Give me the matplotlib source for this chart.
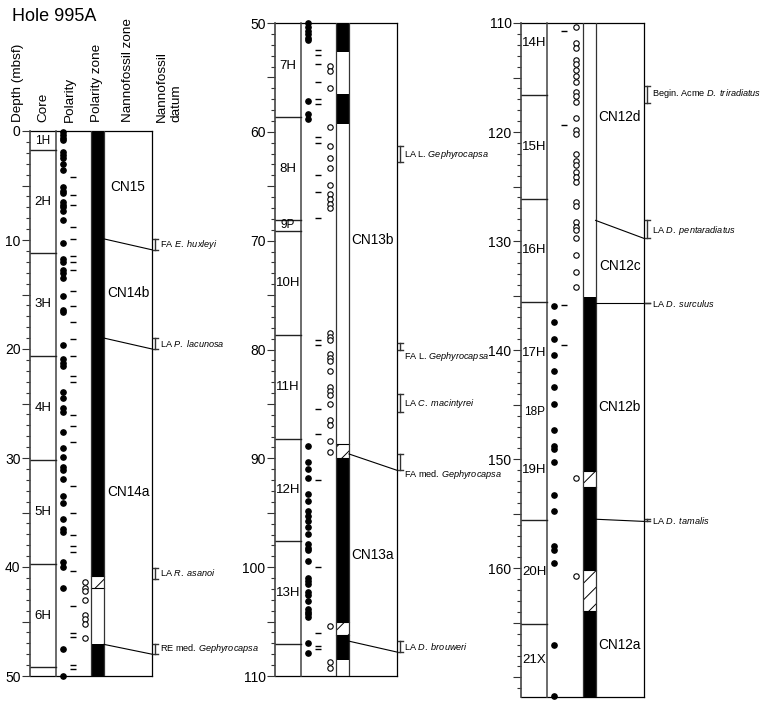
import matplotlib
matplotlib.use("Agg")
import matplotlib.pyplot as plt
from matplotlib.patches import Rectangle
from matplotlib.ticker import MultipleLocator, FuncFormatter

plt.rcParams['font.family'] = ['Liberation Sans', 'DejaVu Sans']
plt.rcParams['mathtext.fontset'] = 'custom'
plt.rcParams['mathtext.rm'] = 'Liberation Sans'
plt.rcParams['mathtext.it'] = 'Liberation Sans:italic'
plt.rcParams['hatch.linewidth'] = 0.7

# ---- data (depths in mbsf) ----
core_names = ["1H", "2H", "3H", "4H", "5H", "6H", "7H", "8H", "9P", "10H", "11H",
              "12H", "13H", "14H", "15H", "16H", "17H", "18P", "19H", "20H", "21X"]
core_tops = [0, 1.75, 11.2, 20.6, 30.2, 39.7, 49.2, 58.65, 68.1, 69.1, 78.7,
             88.2, 97.6, 107.1, 116.6, 126.1, 135.6, 145.0, 146.4, 155.6, 165.1]
hole_bottom = 171.8
hidden_core_lines = [145.0, 146.4]

normal_pts = [0.1, 0.35, 0.6, 0.85, 1.9, 2.2, 2.5, 3.0, 3.6, 5.1, 5.5, 5.7, 6.5, 6.8,
              7.0, 7.3, 8.2, 10.3, 11.7, 12.0, 12.75, 13.05, 13.5, 15.1, 16.4, 16.6,
              19.6, 20.95, 21.25, 21.55, 23.9, 24.5, 25.4, 25.75, 27.6, 29.05, 29.9,
              30.8, 31.1, 31.95, 33.5, 34.1, 35.6, 36.5, 36.8, 39.5, 40.0, 41.9, 47.5,
              50.0, 50.4, 50.75, 51.05, 51.35, 51.6, 57.2, 58.4, 58.8, 88.85, 90.35,
              90.95, 91.85, 93.3, 93.9, 94.8, 95.3, 95.75, 96.35, 96.95, 97.9, 98.2,
              98.45, 99.4, 100.95, 101.25, 101.55, 102.3, 102.6, 103.1, 103.85, 104.1,
              104.3, 104.55, 107.0, 107.9,
              135.95, 137.4, 138.95, 140.4, 141.9, 143.35, 144.9, 147.3, 148.8, 149.1,
              150.25, 153.3, 154.75, 158.0, 158.35, 159.5, 167.05, 171.75]
reversed_pts = [41.4, 41.9, 42.2, 43.0, 44.4, 44.8, 45.2, 46.5,
                53.95, 54.45, 56.0, 59.55, 61.3, 62.4, 63.35, 64.85, 65.7, 66.15, 66.6,
                67.0, 78.45, 78.85, 79.15, 80.4, 80.8, 81.1, 81.95, 83.4, 83.85, 84.15,
                85.0, 86.45, 86.9, 88.4, 89.4, 105.45, 108.75, 109.25,
                110.35, 111.85, 112.3, 113.35, 113.75, 114.3, 114.9, 115.4, 116.3, 116.7,
                117.2, 118.75, 119.8, 120.2, 122.0, 122.65, 123.05, 123.65, 124.1, 124.55,
                126.4, 126.8, 128.25, 128.7, 129.0, 129.75, 131.3, 132.8, 134.25, 151.75,
                160.7]
dash_pts = [4.2, 5.9, 6.8, 8.8, 9.9, 11.5, 12.0, 12.75, 14.7, 16.1, 17.5, 19.1, 20.6,
            22.5, 23.0, 26.1, 27.1, 28.5, 32.6, 35.0, 37.1, 38.1, 38.6, 40.4, 43.6,
            46.1, 46.4, 49.0, 49.4,
            52.5, 52.95, 53.75, 55.4, 57.0, 57.45, 60.45, 61.05, 63.95, 65.5, 67.9,
            79.1, 79.55, 85.5, 87.8, 92.0, 100.0, 106.05, 107.2, 107.5,
            110.7, 119.35, 135.85, 139.5]

# polarity zone: N normal, R reversed, H uncertain
pz_tops = [0, 40.85, 41.95, 47.05, 52.7, 56.55, 59.3, 88.65, 89.95, 105.05, 106.25,
           108.55, 135.1, 151.1, 152.5, 160.2, 163.9]
pz_kind = ["N", "H", "R", "N", "R", "N", "R", "H", "N", "H", "N",
           "R", "N", "H", "N", "H", "N"]

zone_names = ["CN15", "CN14b", "CN14a", "CN13b", "CN13a", "CN12d", "CN12c", "CN12b", "CN12a"]
zone_label_depth = [5.1, 14.9, 33.1, 69.9, 98.9, 118.6, 132.3, 145.2, 167.0]

datum_labels = [r"FA $\mathit{E.\ huxleyi}$", r"LA $\mathit{P.\ lacunosa}$",
                r"LA $\mathit{R.\ asanoi}$", r"RE med. $\mathit{Gephyrocapsa}$",
                r"LA L. $\mathit{Gephyrocapsa}$", r"FA L. $\mathit{Gephyrocapsa}$",
                r"LA $\mathit{C.\ macintyrei}$", r"FA med. $\mathit{Gephyrocapsa}$",
                r"LA $\mathit{D.\ brouweri}$", r"Begin. Acme $\mathit{D.\ triradiatus}$",
                r"LA $\mathit{D.\ pentaradiatus}$", r"LA $\mathit{D.\ surculus}$",
                r"LA $\mathit{D.\ tamalis}$"]
datum_top = [9.9, 19.0, 40.05, 47.1, 61.3, 79.4, 84.1, 89.6, 106.8, 115.8, 128.1, 135.7, 155.5]
datum_bot = [10.9, 20.0, 41.1, 48.0, 62.8, 80.0, 85.7, 91.1, 107.8, 117.3, 129.75, 135.7, 155.7]
datum_text_depth = [10.45, 19.5, 40.5, 47.5, 62.05, 80.6, 85.0, 91.45, 107.3, 116.45, 129.0, 135.7, 155.6]
datum_boundary = [True, True, False, True, False, False, False, True, True, False, True, True, True]

# ---- layout (pixels) ----
W, H = 766, 709
panel_px = [(30, 152, 131, 676), (275, 397, 23, 676), (521, 644, 23, 697)]
panel_depth = [(0, 50), (50, 110), (110, hole_bottom)]
label_max = [50, 110, 160]
X_CORE, X_BAR0, X_BAR1, X_RIGHT = 26, 61, 74, 122
X_N, X_D, X_R = 32.5, 43, 55

fig = plt.figure(figsize=(W / 100, H / 100), dpi=100)

for (l, r, t, b), (d0, d1), lmax in zip(panel_px, panel_depth, label_max):
    ax = fig.add_axes([l / W, 1 - b / H, (r - l) / W, (b - t) / H])
    ax.set_xlim(0, X_RIGHT)
    ax.set_ylim(d1, d0)
    for s in ["top", "right", "bottom"]:
        ax.spines[s].set_visible(False)
    ax.spines["left"].set_color("#444444")
    ax.spines["left"].set_linewidth(1.2)
    ax.set_xticks([])
    ax.yaxis.set_major_locator(MultipleLocator(5))
    ax.yaxis.set_minor_locator(MultipleLocator(1))
    ax.yaxis.set_major_formatter(FuncFormatter(
        lambda v, p, m=lmax: f"{v:.0f}" if round(v) % 10 == 0 and v <= m + 0.1 else ""))
    ax.tick_params(axis="y", which="major", length=5.8, width=0.8, color="#333333",
                   labelsize=10, pad=1)
    ax.tick_params(axis="y", which="minor", length=2.9, width=0.8, color="#333333")

    # frame
    ax.plot([0, X_RIGHT], [d0, d0], color="k", lw=0.9, clip_on=False)
    ax.plot([0, X_RIGHT], [d1, d1], color="k", lw=0.9, clip_on=False)
    ax.plot([X_RIGHT, X_RIGHT], [d0, d1], color="k", lw=0.9, clip_on=False)
    ax.plot([X_CORE, X_CORE], [d0, d1], color="#444444", lw=1.1, clip_on=False)

    # cores
    bounds = core_tops[1:] + [hole_bottom]
    for name, ct, cb in zip(core_names, core_tops, bounds):
        if d0 < ct < d1 and ct not in hidden_core_lines:
            ax.plot([0, X_CORE], [ct, ct], color="#222222", lw=1.0)
        mid = (ct + cb) / 2
        if d0 <= mid < d1:
            fs = 8.5 if cb - ct < 2 else 9.5
            ax.text(X_CORE / 2, mid, name, ha="center", va="center", fontsize=fs)

    # polarity data
    n = [v for v in normal_pts if d0 <= v <= d1]
    rv = [v for v in reversed_pts if d0 <= v <= d1]
    dd = [v for v in dash_pts if d0 <= v <= d1]
    ax.plot([X_N] * len(n), n, "o", ms=3.8, color="k", clip_on=False)
    ax.plot([X_R] * len(rv), rv, "o", ms=3.9, mfc="white", mec="k", mew=0.8)
    ax.plot([X_D] * len(dd), dd, "_", ms=5, mew=1.0, color="k")

    # polarity zone bar
    pz_bots = pz_tops[1:] + [hole_bottom]
    for pt, pb, kind in zip(pz_tops, pz_bots, pz_kind):
        top, bot = max(pt, d0), min(pb, d1)
        if bot <= top:
            continue
        fc = "k" if kind == "N" else "white"
        ax.add_patch(Rectangle((X_BAR0, top), X_BAR1 - X_BAR0, bot - top, facecolor=fc,
                               edgecolor="k" if kind == "H" else "none", lw=0.0,
                               hatch="//" if kind == "H" else None))
        if kind == "H":
            ax.plot([X_BAR0, X_BAR1], [top, top], color="k", lw=0.8)
            ax.plot([X_BAR0, X_BAR1], [bot, bot], color="k", lw=0.8)
    ax.plot([X_BAR0, X_BAR0], [d0, d1], color="#333333", lw=0.9)
    ax.plot([X_BAR1, X_BAR1], [d0, d1], color="#333333", lw=0.9)

    # zones
    for zn, zd in zip(zone_names, zone_label_depth):
        if d0 <= zd < d1:
            ax.text((X_BAR1 + X_RIGHT) / 2, zd, zn, ha="center", va="center", fontsize=9.8)

    # datums
    for lab, dt, db, dtx, bnd in zip(datum_labels, datum_top, datum_bot,
                                     datum_text_depth, datum_boundary):
        if not (d0 <= dt < d1):
            continue
        if bnd:
            ax.plot([X_BAR1, X_RIGHT], [dt, db], color="k", lw=0.8)
        ex = X_RIGHT + 3
        ax.plot([ex, ex], [dt, db], color="#333333", lw=1.0, clip_on=False)
        ax.plot([ex - 2.5, ex + 2.5], [dt, dt], color="#333333", lw=1.0, clip_on=False)
        ax.plot([ex - 2.5, ex + 2.5], [db, db], color="#333333", lw=1.0, clip_on=False)
        ax.text(X_RIGHT + 7.5, dtx, lab, ha="left", va="center", fontsize=6.6,
                clip_on=False)

# headers
headers = ["Depth (mbsf)", "Core", "Polarity", "Polarity zone", "Nannofossil zone",
           "Nannofossil\ndatum"]
header_x = [18, 43, 70, 97, 128, 169]
for txt, hx in zip(headers, header_x):
    fig.text(hx / W, 1 - 122 / H, txt, rotation=90, ha="center", va="bottom",
             fontsize=9.7, multialignment="left")

fig.text(12 / W, 1 - 21 / H, "Hole 995A", fontsize=13, ha="left", va="baseline")

fig.savefig("out.png", dpi=100)
